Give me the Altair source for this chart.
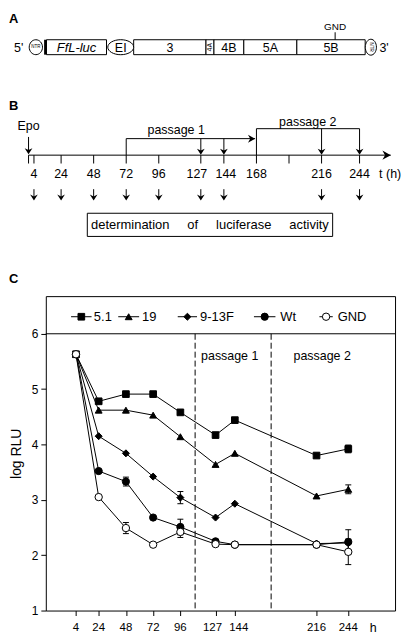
import altair as alt
import pandas as pd

FONT = "Liberation Sans"
NB = "\u00a0"

# ================= Panel C data: luciferase time course =================
times = [4, 24, 48, 72, 96, 127, 144, 216, 244]
series = ["5.1", "19", "9-13F", "Wt", "GND"]
log_rlu_51 = [5.63, 4.78, 4.91, 4.91, 4.58, 4.17, 4.44, 3.80, 3.92]
log_rlu_19 = [5.63, 4.62, 4.62, 4.53, 4.14, 3.64, 3.84, 3.07, 3.19]
log_rlu_913f = [5.63, 4.15, 3.84, 3.42, 3.04, 2.68, 2.93, 2.21, 2.22]
log_rlu_wt = [5.63, 3.52, 3.33, 2.68, 2.51, 2.25, 2.19, 2.19, 2.24]
log_rlu_gnd = [5.63, 3.05, 2.49, 2.19, 2.42, 2.20, 2.19, 2.19, 2.06]
err_series = ["Wt", "GND", "9-13F", "Wt", "GND", "5.1", "19", "Wt", "GND"]
err_times = [48, 48, 96, 96, 96, 244, 244, 244, 244]
err_sd = [0.08, 0.10, 0.11, 0.14, 0.10, 0.07, 0.08, 0.22, 0.23]
passage_bounds = [109, 176]
passage_names = ["passage 1", "passage 2"]
passage_label_t = [139.5, 221]
y_ticks = [1, 2, 3, 4, 5, 6]
band_level = [6]

# ================= Panel B data: experimental timeline =================
timeline_ticks = [0, 4, 24, 48, 72, 96, 127, 144, 168, 192, 216, 244]
timeline_labels = [4, 24, 48, 72, 96, 127, 144, 168, 216, 244]
sample_times = [4, 24, 48, 72, 96, 127, 144, 216, 244]
epo_time = [0]
axis_end = [267]
passage1 = [72, 167]
passage1_samples = [127, 144]
passage2 = [168, 244]
passage2_samples = [216, 244]

# ================= Panel A data: replicon map (diagram units) =================
ns_labels = ["3", "4A", "4B", "5A", "5B"]
ns_bounds = [133.3, 206, 214, 244, 297.3, 366]
luc_bounds = [45.7, 106]
bar_bounds = [43.3, 45.7]
ntr5_x = [35]
ei_x = [120.3]
ntr3_x = [371.7]
gnd_x = [335.8]

# ---------------- styles / layout ----------------
X0 = 45  # page x of both panels' origin: diagram units -> plot pixels
marker_shapes = ["square", "triangle-up", "diamond", "circle", "circle"]
marker_fills = ["black", "black", "black", "black", "white"]
marker_sizes = [45, 55, 60, 42, 50]
ARROW_DOWN = "M0,0 L-1,-1.6 L0,-1.1 L1,-1.6 Z"
ARROW_RIGHT = "M0,0 L-1.6,-0.9 L-1.1,0 L-1.6,0.9 Z"
ELL_NTR5 = "M-0.89,0 A0.89,1 0 1,0 0.89,0 A0.89,1 0 1,0 -0.89,0 Z"
ELL_EI = "M-1,0 A1,0.58 0 1,0 1,0 A1,0.58 0 1,0 -1,0 Z"
ELL_NTR3 = "M-0.7,0 A0.7,1 0 1,0 0.7,0 A0.7,1 0 1,0 -0.7,0 Z"
CAP = "M-1,0 L1,0"
HEAD = 60

W_C, H_C = 351, 316
W_TOP, H_TOP = W_C, 277


def df(**cols):
    return pd.DataFrame(cols)


def px(f):
    return alt.X(f"{f}:Q", scale=None, axis=None)


def P(v):
    """page x -> plot x"""
    return v - X0


# timeline scale: t=0 at page x 27.64, 1.3635 px per hour
T_PX0, T_PPH = 27.64, 1.3635
TSCALE = alt.Scale(domain=[(X0 - T_PX0) / T_PPH, (X0 + W_TOP - T_PX0) / T_PPH],
                   nice=False, zero=False)


def tx(f):
    return alt.X(f"{f}:Q", scale=TSCALE, axis=None)


# ======================= TOP (panels A and B) =======================
letters = alt.Chart(df(t=["A", "B", "C"], y=[12.7, 100.3, 273.7])).mark_text(
    align="left", baseline="alphabetic", fontSize=13, fontWeight="bold", color="black"
).encode(x=alt.value(P(8)), y=alt.Y("y:Q", scale=None, axis=None), text="t:N")

# --- Panel A ---
BOX_TOP, BOX_BOT, BOX_MID = 29.3, 44.3, 36.8
ns_df = df(label=ns_labels,
           x1=[P(b) for b in ns_bounds[:-1]],
           x2=[P(b) for b in ns_bounds[1:]])
ns_df["xc"] = (ns_df["x1"] + ns_df["x2"]) / 2
ns_boxes = alt.Chart(ns_df).mark_rect(fill="white", stroke="black", strokeWidth=1).encode(
    x=px("x1"), x2="x2", y=alt.value(BOX_TOP), y2=alt.value(BOX_BOT))
ns_text = alt.Chart(ns_df).transform_filter("datum.label != '4A'").mark_text(
    fontSize=12.5, baseline="middle", color="black").encode(
    x=px("xc"), y=alt.value(BOX_MID + 0.5), text="label:N")
ns_4a = alt.Chart(ns_df).transform_filter("datum.label == '4A'").mark_text(
    fontSize=7, angle=270, baseline="middle", color="black").encode(
    x=px("xc"), y=alt.value(BOX_MID), text="label:N")

luc_df = df(x1=[P(luc_bounds[0])], x2=[P(luc_bounds[1])], t=["FfL-luc"])
luc_df["xc"] = (luc_df["x1"] + luc_df["x2"]) / 2
luc_box = alt.Chart(luc_df).mark_rect(fill="white", stroke="black", strokeWidth=1).encode(
    x=px("x1"), x2="x2", y=alt.value(BOX_TOP), y2=alt.value(BOX_BOT))
luc_text = alt.Chart(luc_df).mark_text(fontSize=13, fontStyle="italic", baseline="middle",
                                       color="black").encode(
    x=px("xc"), y=alt.value(BOX_MID + 0.5), text="t:N")
bar_df = df(x1=[P(bar_bounds[0])], x2=[P(bar_bounds[1])])
bar = alt.Chart(bar_df).mark_rect(fill="black").encode(
    x=px("x1"), x2="x2", y=alt.value(BOX_TOP), y2=alt.value(BOX_BOT))

ntr5 = alt.Chart(df(x=[P(v) for v in ntr5_x], t=["NTR"]))
ntr5_o = ntr5.mark_point(shape=ELL_NTR5, size=225, filled=True, fill="white", stroke="black",
                         strokeWidth=1, opacity=1).encode(x=px("x"), y=alt.value(BOX_MID))
ntr5_t = ntr5.mark_text(fontSize=4.5, baseline="middle", color="black").encode(
    x=px("x"), y=alt.value(BOX_MID), text="t:N")
ei = alt.Chart(df(x=[P(v) for v in ei_x], t=["EI"]))
ei_o = ei.mark_point(shape=ELL_EI, size=676, filled=True, fill="white", stroke="black",
                     strokeWidth=1, opacity=1).encode(x=px("x"), y=alt.value(BOX_MID))
ei_t = ei.mark_text(fontSize=12.5, baseline="middle", color="black").encode(
    x=px("x"), y=alt.value(BOX_MID + 0.5), text="t:N")
ntr3 = alt.Chart(df(x=[P(v) for v in ntr3_x], t=["NTR"]))
ntr3_o = ntr3.mark_point(shape=ELL_NTR3, size=256, filled=True, fill="white", stroke="black",
                         strokeWidth=1, opacity=1).encode(x=px("x"), y=alt.value(BOX_MID))
ntr3_t = ntr3.mark_text(fontSize=4.5, angle=90, baseline="middle", color="black").encode(
    x=px("x"), y=alt.value(BOX_MID), text="t:N")
ends = alt.Chart(df(t=["5'", "3'"], x=[P(17.8), P(385)])).mark_text(
    fontSize=12.5, baseline="middle", color="black").encode(
    x=px("x"), y=alt.value(BOX_MID + 0.5), text="t:N")
gnd = alt.Chart(df(x=[P(v) for v in gnd_x], t=["GND"]))
gnd_t = gnd.mark_text(fontSize=10, baseline="alphabetic", color="black").encode(
    x=px("x"), y=alt.value(20), text="t:N")
gnd_r = gnd.mark_rule(color="black", strokeWidth=1).encode(
    x=px("x"), y=alt.value(21.8), y2=alt.value(BOX_TOP))

# --- Panel B ---
AX_Y = 145.3
axis_df = df(t1=[0], t2=axis_end)
b_axis = alt.Chart(axis_df).mark_rule(color="black", strokeWidth=1).encode(
    x=tx("t1"), x2="t2", y=alt.value(AX_Y))
b_axis_head = alt.Chart(axis_df).mark_point(shape=ARROW_RIGHT, size=110, filled=True,
                                            fill="black", opacity=1).encode(
    x=tx("t2"), y=alt.value(AX_Y))
b_ticks = alt.Chart(df(t=timeline_ticks)).mark_rule(color="black", strokeWidth=1).encode(
    x=tx("t"), y=alt.value(AX_Y), y2=alt.value(153.7))
b_lab_base = alt.Chart(df(t=timeline_labels))
b_labels = b_lab_base.transform_filter("datum.t != 127 && datum.t != 144").mark_text(
    fontSize=12.5, baseline="alphabetic", color="black").encode(
    x=tx("t"), y=alt.value(168.7), text="t:Q")
b_lab127 = b_lab_base.transform_filter("datum.t == 127").mark_text(
    fontSize=12.5, baseline="alphabetic", color="black", dx=-4).encode(
    x=tx("t"), y=alt.value(168.7), text="t:Q")
b_lab144 = b_lab_base.transform_filter("datum.t == 144").mark_text(
    fontSize=12.5, baseline="alphabetic", color="black", dx=2).encode(
    x=tx("t"), y=alt.value(168.7), text="t:Q")
b_unit = alt.Chart(df(t=["t (h)"])).mark_text(
    fontSize=12.5, baseline="alphabetic", align="left", color="black").encode(
    x=alt.value(P(380)), y=alt.value(168), text="t:N")

# sampling arrows below axis
s_df = df(t=sample_times)
s_shaft = alt.Chart(s_df).mark_rule(color="black", strokeWidth=1).encode(
    x=tx("t"), y=alt.value(179.5), y2=alt.value(189))
s_head = alt.Chart(s_df).mark_point(shape=ARROW_DOWN, size=HEAD, filled=True, fill="black",
                                    opacity=1).encode(x=tx("t"), y=alt.value(191))
box_df = df(x1=[P(86.7)], x2=[P(333.3)],
            t=["determination" + NB * 5 + "of" + NB * 5 + "luciferase" + NB * 5 + "activity"])
box_df["xc"] = (box_df["x1"] + box_df["x2"]) / 2
det_box = alt.Chart(box_df).mark_rect(fill="white", stroke="black", strokeWidth=1).encode(
    x=px("x1"), x2="x2", y=alt.value(203.7), y2=alt.value(227))
det_text = alt.Chart(box_df).mark_text(fontSize=13, baseline="middle", color="black").encode(
    x=px("xc"), y=alt.value(215.8), text="t:N")

# Epo
epo = alt.Chart(df(t=epo_time, lab=["Epo"]))
epo_t = epo.mark_text(fontSize=12.5, baseline="alphabetic", color="black").encode(
    x=tx("t"), y=alt.value(120.5), text="lab:N")
epo_s = epo.mark_rule(color="black", strokeWidth=1).encode(
    x=tx("t"), y=alt.value(127), y2=alt.value(142))
epo_h = epo.mark_point(shape=ARROW_DOWN, size=HEAD, filled=True, fill="black", opacity=1).encode(
    x=tx("t"), y=alt.value(144.5))

# passage 1 bracket
P1_Y = 128.7
p1_df = df(t1=[passage1[0]], t2=[passage1[1]])
p1_v = alt.Chart(p1_df).mark_rule(color="black", strokeWidth=1).encode(
    x=tx("t1"), y=alt.value(P1_Y), y2=alt.value(AX_Y))
p1_h = alt.Chart(p1_df).mark_rule(color="black", strokeWidth=1).encode(
    x=tx("t1"), x2="t2", y=alt.value(P1_Y))
p1_head = alt.Chart(p1_df).mark_point(shape=ARROW_RIGHT, size=80, filled=True, fill="black",
                                      opacity=1).encode(x=tx("t2"), y=alt.value(P1_Y))
p1_s = alt.Chart(df(t=passage1_samples))
p1_shaft = p1_s.mark_rule(color="black", strokeWidth=1).encode(
    x=tx("t"), y=alt.value(P1_Y), y2=alt.value(143))
p1_sh = p1_s.mark_point(shape=ARROW_DOWN, size=HEAD, filled=True, fill="black", opacity=1).encode(
    x=tx("t"), y=alt.value(145))
p1_lab = alt.Chart(df(t=["passage 1"])).mark_text(
    fontSize=12.5, baseline="alphabetic", color="black").encode(
    x=alt.value(P(176)), y=alt.value(124), text="t:N")

# passage 2 bracket
P2_Y = 118.7
p2_df = df(t1=[passage2[0]], t2=[passage2[1]])
p2_v = alt.Chart(p2_df).mark_rule(color="black", strokeWidth=1).encode(
    x=tx("t1"), y=alt.value(P2_Y), y2=alt.value(AX_Y))
p2_h = alt.Chart(p2_df).mark_rule(color="black", strokeWidth=1).encode(
    x=tx("t1"), x2="t2", y=alt.value(P2_Y))
p2_s = alt.Chart(df(t=passage2_samples))
p2_shaft = p2_s.mark_rule(color="black", strokeWidth=1).encode(
    x=tx("t"), y=alt.value(P2_Y), y2=alt.value(143))
p2_sh = p2_s.mark_point(shape=ARROW_DOWN, size=HEAD, filled=True, fill="black", opacity=1).encode(
    x=tx("t"), y=alt.value(145))
p2_lab = alt.Chart(df(t=["passage 2"])).mark_text(
    fontSize=12.5, baseline="alphabetic", color="black").encode(
    x=alt.value(P(308.3)), y=alt.value(115.5), text="t:N")

top = alt.layer(
    letters,
    ns_boxes, ns_text, ns_4a, luc_box, luc_text, bar,
    ntr5_o, ntr5_t, ei_o, ei_t, ntr3_o, ntr3_t, ends, gnd_t, gnd_r,
    b_axis, b_axis_head, b_ticks, b_labels, b_lab127, b_lab144, b_unit,
    s_shaft, s_head, det_box, det_text,
    epo_t, epo_s, epo_h,
    p1_v, p1_h, p1_head, p1_shaft, p1_sh, p1_lab,
    p2_v, p2_h, p2_shaft, p2_sh, p2_lab,
).resolve_scale(x="independent", y="independent").properties(
    width=W_TOP, height=H_TOP, view=alt.ViewBackground(stroke="transparent"))

# ======================= Panel C chart =======================
XDOM = [-22.6, 285.2]
XS = alt.Scale(domain=XDOM, nice=False, zero=False)
YS = alt.Scale(domain=[1, 6.68], nice=False, zero=False)


def px_to_h(p):
    """legend layout pixel -> position on the shared time scale"""
    return XDOM[0] + p * (XDOM[1] - XDOM[0]) / W_C


rows = []
for s, vals in zip(series, [log_rlu_51, log_rlu_19, log_rlu_913f, log_rlu_wt, log_rlu_gnd]):
    for t, v in zip(times, vals):
        rows.append({"series": s, "time": t, "value": v})
data = pd.DataFrame(rows)

err = df(series=err_series, time=err_times, sd=err_sd)
err = err.merge(data, on=["series", "time"])
err["lo"] = err["value"] - err["sd"]
err["hi"] = err["value"] + err["sd"]
caps = pd.concat([err[["time", "lo"]].rename(columns={"lo": "y"}),
                  err[["time", "hi"]].rename(columns={"hi": "y"})])

shape_enc = alt.Shape("series:N", scale=alt.Scale(domain=series, range=marker_shapes), legend=None)
fill_enc = alt.Fill("series:N", scale=alt.Scale(domain=series, range=marker_fills), legend=None)
size_enc = alt.Size("series:N", scale=alt.Scale(domain=series, range=marker_sizes), legend=None)

X_AXIS = alt.Axis(
    values=times, title=None, grid=False, domain=False, tickSize=5, tickColor="black",
    labels=False)
Y_AXIS = alt.Axis(
    values=y_ticks, title="log RLU", titleFontSize=14, titleFontWeight="normal",
    titleColor="black", titlePadding=8, grid=False, domain=False, tickSize=5,
    tickColor="black", labelColor="black", labelFontSize=12, labelPadding=3)


def xn(f):
    return alt.X(f"{f}:Q", scale=XS, axis=X_AXIS)


def yn(f):
    return alt.Y(f"{f}:Q", scale=YS, axis=Y_AXIS)


lines = alt.Chart(data).mark_line(color="black", strokeWidth=1).encode(
    x=xn("time"), y=yn("value"), detail="series:N")
ebars = alt.Chart(err).mark_rule(color="black", strokeWidth=1).encode(
    x=xn("time"), y=yn("lo"), y2="hi")
ecaps = alt.Chart(caps).mark_point(shape=CAP, size=36, stroke="black", strokeWidth=1,
                                   opacity=1, filled=False).encode(x=xn("time"), y=yn("y"))
points = alt.Chart(data).mark_point(filled=True, stroke="black", strokeWidth=1, opacity=1).encode(
    x=xn("time"), y=yn("value"), shape=shape_enc, fill=fill_enc, size=size_enc)

# x tick labels (127 and 144 nudged apart as in the original)
XL_Y = H_C + 17.5
xl_base = alt.Chart(df(t=times))
xl_main = xl_base.transform_filter("datum.t != 127 && datum.t != 144").mark_text(
    fontSize=11.5, baseline="middle", color="black").encode(
    x=xn("t"), y=alt.value(XL_Y), text="t:Q")
xl_127 = xl_base.transform_filter("datum.t == 127").mark_text(
    fontSize=11.5, baseline="middle", color="black", dx=-3).encode(
    x=xn("t"), y=alt.value(XL_Y), text="t:Q")
xl_144 = xl_base.transform_filter("datum.t == 144").mark_text(
    fontSize=11.5, baseline="middle", color="black", dx=4).encode(
    x=xn("t"), y=alt.value(XL_Y), text="t:Q")

band = alt.Chart(df(level=band_level)).mark_rule(color="black", strokeWidth=1).encode(
    y=yn("level"), x=alt.value(0), x2=alt.value(W_C))
dashes = alt.Chart(df(b=passage_bounds, top=[6, 6], bot=[1, 1])).mark_rule(
    color="black", strokeWidth=1, strokeDash=[6, 3]).encode(x=xn("b"), y=yn("top"), y2="bot")
plabels = alt.Chart(df(t=passage_label_t, lab=passage_names)).mark_text(
    fontSize=12.5, baseline="alphabetic", color="black").encode(
    x=xn("t"), y=alt.value(64.5), text="lab:N")
h_lab = alt.Chart(df(t=["h"])).mark_text(fontSize=12.5, baseline="middle",
                                         color="black").encode(
    x=alt.value(329), y=alt.value(XL_Y), text="t:N")

# legend (manual, inside the top band); layout in plot pixels
leg_mx = [35.7, 83.3, 142.3, 220, 281.7]
leg_half = [10.3, 10.5, 9.7, 10.8, 6.7]
leg_tx = [48.3, 96.7, 155, 235.7, 293.3]
leg = df(series=series,
         mx=[px_to_h(m) for m in leg_mx],
         l1=[px_to_h(m - h) for m, h in zip(leg_mx, leg_half)],
         l2=[px_to_h(m + h) for m, h in zip(leg_mx, leg_half)],
         tx=[px_to_h(t) for t in leg_tx])
LEG_Y = 20.7
leg_lines = alt.Chart(leg).mark_rule(color="black", strokeWidth=1).encode(
    x=xn("l1"), x2="l2", y=alt.value(LEG_Y))
leg_pts = alt.Chart(leg).mark_point(filled=True, stroke="black", strokeWidth=1, opacity=1).encode(
    x=xn("mx"), y=alt.value(LEG_Y), shape=shape_enc, fill=fill_enc, size=size_enc)
leg_txt = alt.Chart(leg).mark_text(fontSize=13, align="left", baseline="middle",
                                   color="black").encode(
    x=xn("tx"), y=alt.value(LEG_Y), text="series:N")

panel_c = alt.layer(
    lines, band, dashes, plabels, ebars, ecaps, points, xl_main, xl_127, xl_144, h_lab,
    leg_lines, leg_pts, leg_txt,
).properties(
    width=W_C, height=H_C, view=alt.ViewBackground(stroke="black", strokeWidth=1))

chart = alt.vconcat(top, panel_c, spacing=8).properties(
    padding=0, background="white"
).configure(font=FONT).configure_view(stroke="transparent")

chart.save("out.html", embed_options={"renderer": "svg", "actions": False})
